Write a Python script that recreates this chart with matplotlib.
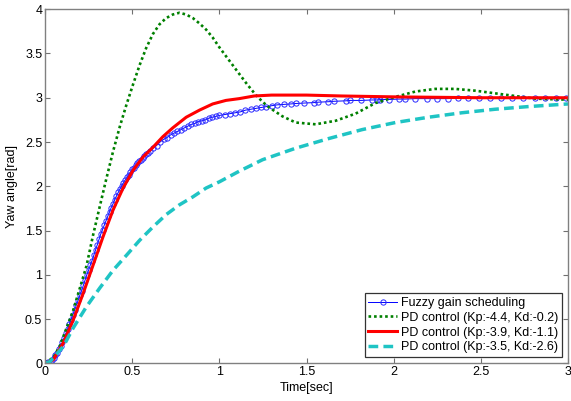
import numpy as np
import matplotlib
matplotlib.use("Agg")
import matplotlib.pyplot as plt
from matplotlib.ticker import FuncFormatter

plt.rcParams['font.family'] = ['Liberation Sans', 'DejaVu Sans']

# fuzzy gain scheduling (variable step solver output, dense at the start)
t_fuzzy = [0.00, 0.01, 0.02, 0.03, 0.04, 0.05, 0.06, 0.07, 0.08, 0.09,
           0.10, 0.11, 0.12, 0.13, 0.14, 0.15, 0.16, 0.17, 0.18, 0.19,
           0.20, 0.21, 0.22, 0.23, 0.24, 0.25, 0.26, 0.27, 0.28, 0.29,
           0.30, 0.31, 0.32, 0.33, 0.34, 0.35, 0.36, 0.37, 0.38, 0.39,
           0.40, 0.41, 0.42, 0.43, 0.44, 0.45, 0.46, 0.47, 0.48, 0.49,
           0.50, 0.51, 0.52, 0.53, 0.54, 0.55, 0.56, 0.57, 0.58, 0.59,
           0.60, 0.62, 0.64, 0.66, 0.68, 0.70, 0.72, 0.74, 0.76, 0.78,
           0.80, 0.82, 0.84, 0.86, 0.88, 0.90, 0.92, 0.94, 0.96, 0.98,
           1.00, 1.03, 1.06, 1.09, 1.12, 1.15, 1.18, 1.21, 1.24, 1.27,
           1.30, 1.333, 1.371, 1.41, 1.438, 1.486, 1.543, 1.567, 1.625, 1.657,
           1.724, 1.752, 1.815, 1.876, 1.905, 1.924, 1.971, 2.029, 2.067, 2.124,
           2.19, 2.248, 2.309, 2.371, 2.429, 2.49, 2.552, 2.613, 2.676, 2.743,
           2.81, 2.867, 2.933, 2.99]
y_fuzzy = [0.00, 0.00, 0.01, 0.02, 0.04, 0.06, 0.09, 0.12, 0.16, 0.20,
           0.24, 0.29, 0.34, 0.39, 0.44, 0.49, 0.55, 0.60, 0.66, 0.71,
           0.77, 0.82, 0.88, 0.94, 1.00, 1.05, 1.11, 1.16, 1.22, 1.28,
           1.34, 1.40, 1.46, 1.51, 1.56, 1.61, 1.66, 1.71, 1.76, 1.80,
           1.85, 1.89, 1.93, 1.97, 2.00, 2.04, 2.07, 2.10, 2.13, 2.16,
           2.19, 2.21, 2.24, 2.26, 2.28, 2.30, 2.32, 2.34, 2.36, 2.38,
           2.40, 2.43, 2.46, 2.50, 2.53, 2.55, 2.58, 2.60, 2.62, 2.64,
           2.66, 2.68, 2.70, 2.71, 2.73, 2.74, 2.75, 2.77, 2.78, 2.79,
           2.80, 2.81, 2.82, 2.83, 2.84, 2.86, 2.87, 2.88, 2.89, 2.90,
           2.91, 2.92, 2.925, 2.93, 2.935, 2.94, 2.945, 2.95, 2.955, 2.96,
           2.965, 2.97, 2.97, 2.975, 2.975, 2.98, 2.98, 2.985, 2.985, 2.99,
           2.99, 2.99, 2.99, 2.995, 2.995, 2.995, 2.995, 3.0, 3.0, 3.0,
           3.0, 3.0, 3.0, 3.0]

# PD control (Kp:-4.4, Kd:-0.2)
t_pd1 = [0.0, 0.05, 0.086, 0.12, 0.162, 0.2, 0.238, 0.276, 0.314, 0.35,
         0.39, 0.43, 0.467, 0.505, 0.543, 0.58, 0.619, 0.657, 0.695, 0.733,
         0.771, 0.81, 0.848, 0.886, 0.924, 0.962, 1.0, 1.057, 1.114, 1.16,
         1.21, 1.25, 1.286, 1.362, 1.438, 1.552, 1.667, 1.781, 1.895, 2.01,
         2.124, 2.238, 2.352, 2.467, 2.581, 2.695, 2.81, 2.96, 3.0]
y_pd1 = [0.0, 0.07, 0.2, 0.38, 0.6, 0.85, 1.1, 1.45, 1.77, 2.07,
         2.39, 2.68, 2.92, 3.15, 3.37, 3.56, 3.72, 3.83, 3.90, 3.94,
         3.96, 3.94, 3.90, 3.84, 3.77, 3.68, 3.57, 3.42, 3.27, 3.15,
         3.03, 2.95, 2.89, 2.79, 2.72, 2.70, 2.74, 2.82, 2.94, 3.01,
         3.07, 3.10, 3.10, 3.08, 3.05, 3.02, 2.99, 2.98, 2.98]

# PD control (Kp:-3.9, Kd:-1.1)
t_pd2 = [0.0, 0.048, 0.105, 0.162, 0.219, 0.276, 0.333, 0.39, 0.448, 0.505,
         0.562, 0.619, 0.676, 0.733, 0.81, 0.886, 0.962, 1.038, 1.114, 1.2,
         1.3, 1.5, 1.7, 2.0, 2.5, 3.0]
y_pd2 = [0.0, 0.04, 0.23, 0.49, 0.79, 1.11, 1.43, 1.73, 1.98, 2.18,
         2.33, 2.44, 2.56, 2.66, 2.78, 2.86, 2.93, 2.97, 2.99, 3.02,
         3.03, 3.03, 3.02, 3.01, 3.0, 3.0]

# PD control (Kp:-3.5, Kd:-2.6)
t_pd3 = [0.0, 0.029, 0.105, 0.162, 0.238, 0.314, 0.39, 0.467, 0.543, 0.619,
         0.695, 0.771, 0.848, 0.924, 1.0, 1.057, 1.114, 1.248, 1.438, 1.629,
         1.819, 2.01, 2.2, 2.39, 2.581, 2.771, 3.0]
y_pd3 = [0.0, 0.02, 0.19, 0.40, 0.64, 0.85, 1.05, 1.22, 1.39, 1.54,
         1.68, 1.79, 1.88, 1.98, 2.05, 2.11, 2.17, 2.30, 2.43, 2.54,
         2.64, 2.72, 2.78, 2.83, 2.87, 2.90, 2.93]

labels = ['Fuzzy gain scheduling',
          'PD control (Kp:-4.4, Kd:-0.2)',
          'PD control (Kp:-3.9, Kd:-1.1)',
          'PD control (Kp:-3.5, Kd:-2.6)']

fig = plt.figure(figsize=(5.71, 4.01), dpi=100)
ax = fig.add_axes([0.0788, 0.094, 0.916, 0.883])

ax.plot(t_fuzzy, y_fuzzy, color='#0000ff', lw=0.7, marker='o', ms=3.8,
        mfc='none', mec='#2a2aff', mew=0.7, label=labels[0])
ax.plot(t_pd1, y_pd1, color='#008000', lw=1.9, ls=(0, (1, 1.1)), label=labels[1])
ax.plot(t_pd2, y_pd2, color='#ff0000', lw=2.2, label=labels[2])
ax.plot(t_pd3, y_pd3, color='#1fc4c4', lw=2.5, ls=(0, (2.8, 1.5)), label=labels[3])

ax.set_xlim(0, 3)
ax.set_ylim(0, 4)
ax.set_xticks([0, 0.5, 1, 1.5, 2, 2.5, 3])
ax.set_yticks([0, 0.5, 1, 1.5, 2, 2.5, 3, 3.5, 4])
fmt = FuncFormatter(lambda v, p: '%g' % v)
ax.xaxis.set_major_formatter(fmt)
ax.yaxis.set_major_formatter(fmt)
ax.tick_params(direction='in', length=3.5, width=0.8, color='#707070',
               top=True, right=True, labelsize=9, pad=2)
for s in ax.spines.values():
    s.set_color('#808080')
    s.set_linewidth(1.0)

ax.set_xlabel('Time[sec]', fontsize=9, labelpad=3)
ax.set_ylabel('Yaw angle[rad]', fontsize=9, labelpad=5)

leg = ax.legend(loc='lower right', fontsize=9, fancybox=False, framealpha=1,
                edgecolor='#333333', handlelength=2.3, handletextpad=0.3,
                labelspacing=0.22, borderpad=0.3, borderaxespad=0.5)
leg.get_frame().set_linewidth(0.9)

fig.savefig('out.png', dpi=100)
